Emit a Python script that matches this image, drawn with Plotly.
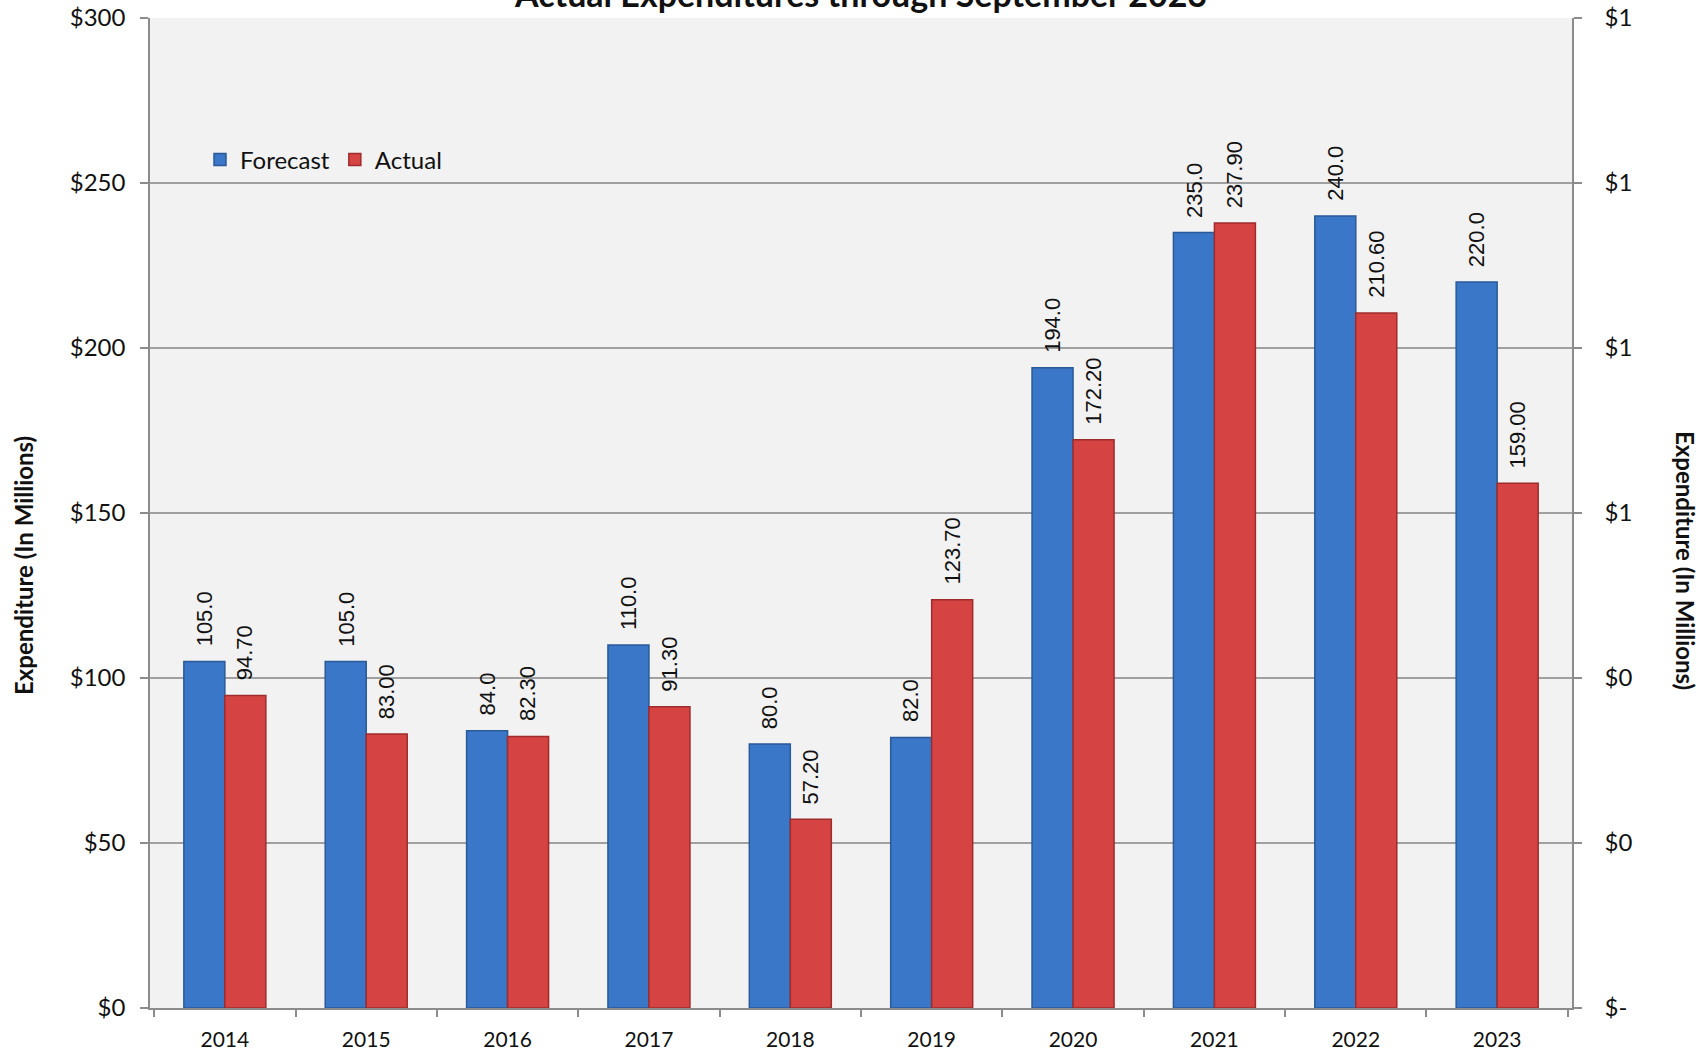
import plotly.graph_objects as go

years = ["2014", "2015", "2016", "2017", "2018", "2019", "2020", "2021", "2022", "2023"]
forecast = [105.0, 105.0, 84.0, 110.0, 80.0, 82.0, 194.0, 235.0, 240.0, 220.0]
actual = [94.7, 83.0, 82.3, 91.3, 57.2, 123.7, 172.2, 237.9, 210.6, 159.0]

left_ticks = [0, 50, 100, 150, 200, 250, 300]
left_text = ["$0", "$50", "$100", "$150", "$200", "$250", "$300"]
right_text = ["$-", "$0", "$0", "$1", "$1", "$1", "$1"]

title_text = "Actual Expenditures through September 2023"
axis_title = "Expenditure (In Millions)"

BLUE = "#3a77c8"
BLUE_EDGE = "#2a5a98"
RED = "#d64343"
RED_EDGE = "#9e2c2c"
GRID = "#a0a0a0"
AXIS = "#8c8c8c"
FONT = "Lato"
LABEL_FONT = "Liberation Sans"

W, H = 1708, 1053
L, R, T, B = 150, 136, 18, 45
pw, ph = W - L - R, H - T - B

fig = go.Figure()
fig.add_trace(go.Bar(name="Forecast", x=years, y=forecast,
                     marker=dict(color=BLUE, line=dict(color=BLUE_EDGE, width=1.5))))
fig.add_trace(go.Bar(name="Actual", x=years, y=actual,
                     marker=dict(color=RED, line=dict(color=RED_EDGE, width=1.5))))
# invisible trace so the secondary axis is drawn
fig.add_trace(go.Scatter(x=years, y=forecast, yaxis="y2", mode="markers",
                         marker=dict(opacity=0), showlegend=False, hoverinfo="skip"))

off = 0.145
anns = []
for i, (f, a) in enumerate(zip(forecast, actual)):
    anns.append(dict(x=i - off, y=f, xref="x", yref="y", text=f"{f:.1f}", textangle=-90,
                     showarrow=False, yanchor="bottom", xanchor="center", yshift=13,
                     font=dict(family=LABEL_FONT, size=22, color="#111")))
    anns.append(dict(x=i + off, y=a, xref="x", yref="y", text=f"{a:.2f}", textangle=-90,
                     showarrow=False, yanchor="bottom", xanchor="center", yshift=13,
                     font=dict(family=LABEL_FONT, size=22, color="#111")))


def px_to_paper(xp, yp):
    return (xp - L) / pw, (H - B - yp) / ph


lx, ly = px_to_paper(23, 566)
rx, ry = px_to_paper(1686, 561)
anns.append(dict(x=lx, y=ly, xref="paper", yref="paper", text=f"<b>{axis_title}</b>",
                 textangle=-90, showarrow=False, xanchor="center", yanchor="middle",
                 font=dict(family=FONT, size=24, color="#111")))
anns.append(dict(x=rx, y=ry, xref="paper", yref="paper", text=f"<b>{axis_title}</b>",
                 textangle=90, showarrow=False, xanchor="center", yanchor="middle",
                 font=dict(family=FONT, size=24, color="#111")))
# title, partly above the top edge as in the reference
tx, _ = px_to_paper(860, 0)
anns.append(dict(x=tx, y=1, xref="paper", yref="paper", text=f"<b>{title_text}</b>",
                 showarrow=False, xanchor="center", yanchor="middle", yshift=25,
                 font=dict(family=FONT, size=34, color="#111")))

lgx, lgy = px_to_paper(200, 160)

fig.update_layout(
    width=W, height=H,
    margin=dict(l=L, r=R, t=T, b=B, autoexpand=False),
    paper_bgcolor="white",
    plot_bgcolor="#f2f2f2",
    barmode="group",
    bargap=0.42,
    bargroupgap=0,
    font=dict(family=FONT, size=21, color="#111"),
    showlegend=True,
    legend=dict(orientation="h", x=lgx, y=lgy, xanchor="left", yanchor="middle",
                bgcolor="rgba(0,0,0,0)", font=dict(family=FONT, size=24, color="#111"),
                traceorder="normal"),
    annotations=anns,
    xaxis=dict(type="category", tickson="boundaries", ticks="outside", ticklen=7,
               tickcolor=AXIS, tickwidth=1.5, showline=True, linecolor=AXIS,
               linewidth=1.5, showgrid=False, ticklabelstandoff=12, automargin=False,
               ticklabeloverflow="allow",
               tickfont=dict(family=FONT, size=21, color="#111")),
    yaxis=dict(range=[0, 300], tickvals=left_ticks, ticktext=left_text, ticks="outside",
               ticklen=8, tickcolor=AXIS, tickwidth=1.5, showline=True,
               linecolor=AXIS, linewidth=1.5, showgrid=True, gridcolor=GRID,
               gridwidth=1.5, zeroline=False, ticklabelstandoff=10, automargin=False,
               ticklabeloverflow="allow",
               tickfont=dict(family=FONT, size=24, color="#111")),
    yaxis2=dict(range=[0, 300], tickvals=left_ticks, ticktext=right_text, overlaying="y",
                side="right", ticks="outside", ticklen=8, tickcolor=AXIS, tickwidth=1.5,
                showline=True, linecolor=AXIS, linewidth=1.5, showgrid=False,
                zeroline=False, ticklabelstandoff=18, automargin=False,
                ticklabeloverflow="allow",
                tickfont=dict(family=FONT, size=24, color="#111")),
)

# remove the page's default body margin so the figure fills the window exactly
fig.write_html("out.html", config={"displayModeBar": False},
               post_script="document.body.style.margin='0';document.body.style.overflow='hidden';")
